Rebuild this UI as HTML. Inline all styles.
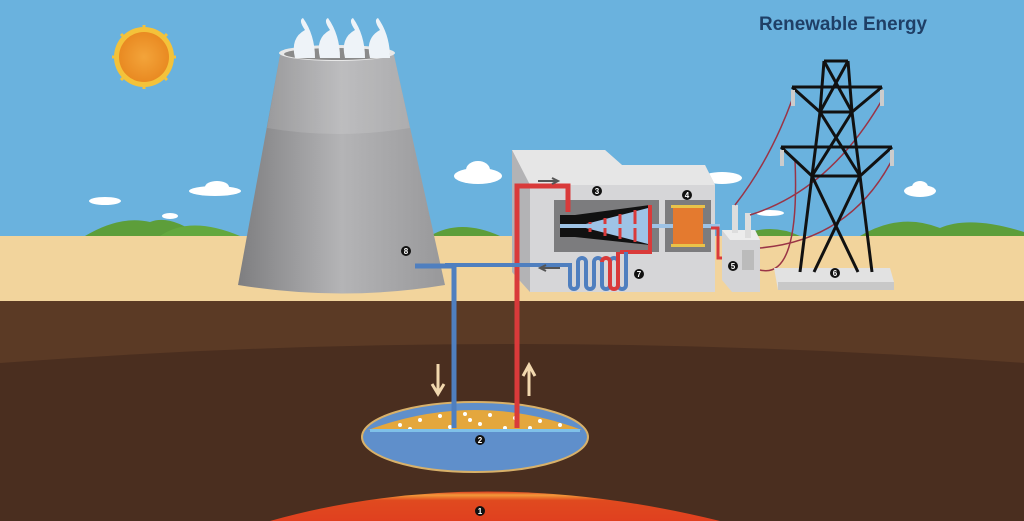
<!DOCTYPE html>
<html><head><style>html,body{margin:0;padding:0;width:1024px;height:521px;overflow:hidden}</style></head><body>
<svg width="1024" height="521" viewBox="0 0 1024 521" xmlns="http://www.w3.org/2000/svg" font-family="Liberation Sans, sans-serif" style="display:block;overflow:hidden">
<defs>
<linearGradient id="tw" x1="0" x2="1"><stop offset="0" stop-color="#7e7e80"/><stop offset="0.5" stop-color="#b4b4b6"/><stop offset="1" stop-color="#98989a"/></linearGradient>
<linearGradient id="mag" x1="0" y1="0" x2="0" y2="1"><stop offset="0" stop-color="#d83a1e"/><stop offset="0.12" stop-color="#f39a3a"/><stop offset="0.3" stop-color="#e04a1f"/><stop offset="1" stop-color="#e0401f"/></linearGradient>
<radialGradient id="sun"><stop offset="0" stop-color="#f3a43a"/><stop offset="1" stop-color="#e98a22"/></radialGradient>
</defs>
<rect width="1024" height="236" fill="#6ab2de"/>
<path d="M85 236 Q120 215 150 222 Q170 214 200 236 Z" fill="#5d9e3a"/>
<path d="M160 236 Q190 215 240 236Z" fill="#64a83e"/>
<path d="M430 236 Q460 218 500 236Z M560 236 Q600 218 640 236Z" fill="#5d9e3a"/>
<path d="M860 236 Q900 212 940 228 Q970 215 1024 232 L1024 236Z" fill="#5d9e3a"/>
<path d="M740 236 Q770 222 800 236Z" fill="#5d9e3a"/>
<g fill="#fff"><ellipse cx="105" cy="201" rx="16" ry="4"/><ellipse cx="215" cy="191" rx="26" ry="5"/><ellipse cx="217" cy="187" rx="12" ry="6"/><ellipse cx="170" cy="216" rx="8" ry="3"/>
<ellipse cx="478" cy="176" rx="24" ry="8"/><ellipse cx="478" cy="170" rx="12" ry="9"/><ellipse cx="722" cy="178" rx="20" ry="6"/><ellipse cx="920" cy="191" rx="16" ry="6"/><ellipse cx="920" cy="187" rx="8" ry="6"/><ellipse cx="770" cy="213" rx="14" ry="3"/></g>
<g stroke="#f4c23a" stroke-width="3"><path d="M144 25 V89 M112 57 H176 M121 34 L167 80 M167 34 L121 80"/></g>
<circle cx="144" cy="57" r="30" fill="#f4c23a"/><circle cx="144" cy="57" r="25" fill="url(#sun)"/>
<rect y="236" width="1024" height="66" fill="#f2d49c"/>
<rect y="301" width="1024" height="220" fill="#5b3a25"/>
<path d="M0 363 Q512 325 1024 363 L1024 521 L0 521Z" fill="#4a2e1f"/>
<path d="M270 521 Q480 462 720 521 Z" fill="url(#mag)"/>
<ellipse cx="475" cy="437" rx="113" ry="35" fill="#5f8fcb" stroke="#d8b16a" stroke-width="2"/>
<path d="M368 430 Q475 390 582 430 Z" fill="#e4a73d"/>
<g fill="#fff"><circle cx="400" cy="425" r="2"/><circle cx="420" cy="420" r="2"/><circle cx="440" cy="416" r="2"/><circle cx="465" cy="414" r="2"/><circle cx="490" cy="415" r="2"/><circle cx="515" cy="418" r="2"/><circle cx="540" cy="421" r="2"/><circle cx="560" cy="425" r="2"/><circle cx="410" cy="429" r="2"/><circle cx="450" cy="427" r="2"/><circle cx="480" cy="424" r="2"/><circle cx="505" cy="428" r="2"/><circle cx="530" cy="428" r="2"/><circle cx="470" cy="420" r="2"/></g>
<rect x="370" y="429" width="210" height="3" fill="#7fc0e8"/>
<path d="M438 364 V392 M432 384 L438 394 L444 384" stroke="#f2d8ae" stroke-width="3" fill="none"/>
<path d="M529 396 V368 M523 376 L529 365 L535 376" stroke="#f2d8ae" stroke-width="3" fill="none"/>
<path d="M280 55 L394 55 L445 285 Q342 302 238 285 Z" fill="url(#tw)"/>
<path d="M267 128 Q338 140 410 128 L394 55 L280 55Z" fill="#fff" opacity="0.12"/>
<ellipse cx="337" cy="53" rx="58" ry="8" fill="#e8e8e8"/><ellipse cx="337" cy="54" rx="53" ry="6" fill="#8a8a8a"/>
<g fill="#eef3f8"><path d="M295 58 Q290 38 305 30 Q298 20 303 18 Q315 35 315 58Z"/><path d="M320 58 Q315 38 330 30 Q323 20 328 18 Q340 35 340 58Z"/><path d="M345 58 Q340 38 355 30 Q348 20 353 18 Q365 35 365 58Z"/><path d="M370 58 Q365 38 380 30 Q373 20 378 18 Q390 35 390 58Z"/></g>
<path d="M415 266 H454 V428" stroke="#4f7fbf" stroke-width="5" fill="none"/>
<path d="M512 150 L605 150 L622 165 L705 165 L715 185 L715 292 L530 292 L512 272Z" fill="#c9c9cb"/>
<path d="M512 150 L605 150 L622 165 L705 165 L715 185 L530 185 Z" fill="#e6e6e6"/>
<rect x="530" y="185" width="185" height="107" fill="#d6d6d8"/>
<path d="M512 150 L530 185 L530 292 L512 272Z" fill="#b3b3b5"/>
<rect x="554" y="200" width="105" height="52" fill="#7c7c7e"/>
<rect x="665" y="200" width="46" height="52" fill="#7c7c7e"/>
<path d="M560 215 L575 215 L650 205 L650 245 L575 237 L560 237Z" fill="#111"/>
<path d="M578 226 L648 208 L648 244 Z" fill="#9ec3e6"/>
<g stroke="#d93a3a" stroke-width="3"><line x1="590" y1="222" x2="590" y2="232"/><line x1="605" y1="218" x2="605" y2="236"/><line x1="620" y1="214" x2="620" y2="239"/><line x1="635" y1="210" x2="635" y2="242"/></g>
<rect x="560" y="224" width="160" height="4" fill="#9ec3e6"/>
<rect x="673" y="207" width="30" height="38" fill="#e47a2f"/>
<rect x="671" y="205" width="34" height="3" fill="#e8c34a"/><rect x="671" y="244" width="34" height="3" fill="#e8c34a"/>
<path d="M517 428 V186 H568 V212" stroke="#d93a3a" stroke-width="5" fill="none"/>
<path d="M650 205 V252 H620" stroke="#d93a3a" stroke-width="4" fill="none"/>
<path d="M445 265 H570 V285 a4 4 0 0 0 8 0 V262 a4 4 0 0 1 8 0 V285 a4 4 0 0 0 8 0 V262 a4 4 0 0 1 8 0 V285 a4 4 0 0 0 8 0 V262 a4 4 0 0 1 8 0 V285 a4 4 0 0 0 8 0 V252" stroke="#4f7fbf" stroke-width="4" fill="none"/>
<path d="M602 262 a4 4 0 0 1 8 0 V285 a4 4 0 0 0 8 0 V252" stroke="#d93a3a" stroke-width="4" fill="none"/>
<path d="M538 181 H556 M552 178 L558 181 L552 184" stroke="#555" stroke-width="2" fill="none"/>
<path d="M560 268 H542 M546 265 L540 268 L546 271" stroke="#555" stroke-width="2" fill="none"/>
<path d="M711 228 H718 V258 H730" stroke="#d93a3a" stroke-width="3" fill="none"/>
<path d="M722 230 L755 230 L760 240 L760 292 L732 292 L722 280Z" fill="#d4d4d6"/>
<path d="M722 230 L755 230 L760 240 L730 240Z" fill="#ececec"/>
<rect x="742" y="250" width="12" height="20" fill="#bbb"/>
<rect x="732" y="205" width="6" height="28" fill="#ddd"/><rect x="745" y="213" width="6" height="25" fill="#ddd"/>
<g stroke="#9a3446" stroke-width="1.5" fill="none"><path d="M735 205 Q770 160 792 100"/><path d="M750 215 Q830 190 882 100"/><path d="M760 248 Q850 240 892 160"/><path d="M760 270 Q800 280 795 160"/></g>
<path d="M774 268 L890 268 L894 282 L778 290 Z" fill="#e2e2e2"/><path d="M778 282 L894 282 L894 290 L778 290Z" fill="#c8c8c8"/>
<g stroke="#111" stroke-width="3" fill="none">
<path d="M824 61 H848 M824 61 L820 112 L812 176 L800 272 M848 61 L852 112 L860 176 L872 272"/>
<path d="M792 87 H882 M781 147 H892 M820 112 H852 M812 176 H860"/>
<path d="M824 61 L852 112 M848 61 L820 112 M820 112 L860 176 M852 112 L812 176 M812 176 L858 272 M860 176 L814 272 M792 87 L820 112 M882 87 L852 112 M781 147 L812 176 M892 147 L860 176"/>
</g>
<g fill="#ccc"><rect x="791" y="90" width="4" height="16"/><rect x="880" y="90" width="4" height="16"/><rect x="780" y="150" width="4" height="16"/><rect x="890" y="150" width="4" height="16"/></g>
<g font-size="8" font-weight="bold" text-anchor="middle" fill="#fff">
<circle cx="480" cy="511" r="5" fill="#111"/><text x="480" y="514">1</text>
<circle cx="480" cy="440" r="5" fill="#111"/><text x="480" y="443">2</text>
<circle cx="597" cy="191" r="5" fill="#111"/><text x="597" y="194">3</text>
<circle cx="687" cy="195" r="5" fill="#111"/><text x="687" y="198">4</text>
<circle cx="733" cy="266" r="5" fill="#111"/><text x="733" y="269">5</text>
<circle cx="835" cy="273" r="5" fill="#111"/><text x="835" y="276">6</text>
<circle cx="639" cy="274" r="5" fill="#111"/><text x="639" y="277">7</text>
<circle cx="406" cy="251" r="5" fill="#111"/><text x="406" y="254">8</text>
</g>
<text x="843" y="30" font-size="19" font-weight="bold" fill="#1f3f66" text-anchor="middle" textLength="168" lengthAdjust="spacingAndGlyphs">Renewable Energy</text>
</svg>
</body></html>
